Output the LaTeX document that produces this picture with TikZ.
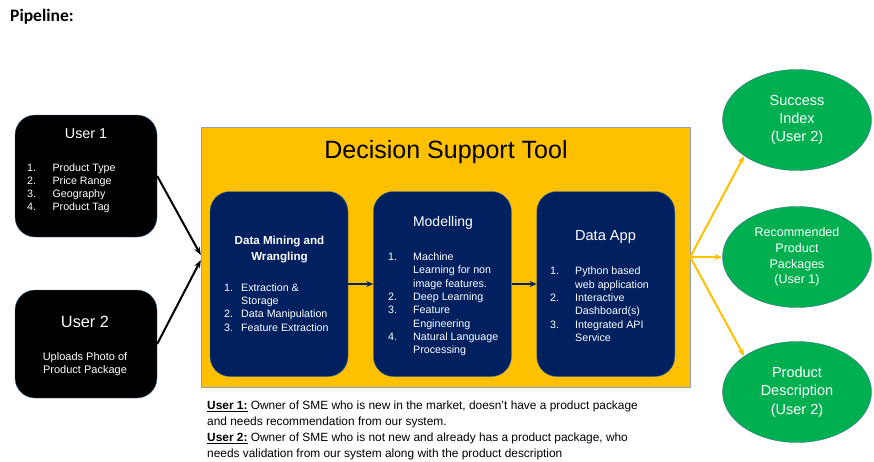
\documentclass[tikz,border=0pt]{standalone}
\usepackage{fontspec}
\setmainfont{Liberation Sans}
\newfontfamily\calibri{Carlito}
\usetikzlibrary{positioning,arrows.meta,shapes.geometric,calc}
\definecolor{dstyellow}{HTML}{FFC000}
\definecolor{dstnavy}{HTML}{002060}
\definecolor{dstgreen}{HTML}{00B050}
\definecolor{edgeblue}{HTML}{41719C}
\definecolor{framegray}{HTML}{8EA0BA}

\begin{document}
\begin{tikzpicture}[
      x=1pt, y=-1pt,
      >={Stealth[length=8pt,width=6pt]},
      user/.style={draw=edgeblue, fill=black, rounded corners=20pt,
                   minimum width=142pt, inner sep=0pt},
      stage/.style={draw=edgeblue, fill=dstnavy, rounded corners=20pt,
                    minimum width=138pt, minimum height=185pt, inner sep=0pt},
      outcome/.style={ellipse, draw=edgeblue, fill=dstgreen, minimum width=149pt,
                      minimum height=101pt, inner sep=0pt, text=white, align=center,
                      font=\fontsize{14.5}{18.3}\selectfont},
      head/.style={text=white, inner sep=0pt, align=center},
      items/.style={text=white, inner sep=0pt, anchor=base west,
                    font=\fontsize{10.7}{13.3}\selectfont},
      feed/.style={->, line width=2pt},
      flow/.style={->, line width=1.5pt, draw=dstnavy, >={Stealth[length=7pt,width=6pt]}},
      fan/.style={->, line width=2pt, draw=dstyellow},
      node distance=25pt
    ]
    \useasboundingbox (0,0) rectangle (874,461);

    \node[anchor=base west, inner sep=0pt, font=\calibri\bfseries\fontsize{17.5}{20}\selectfont]
         (pipe) at (10,21.7) {Pipeline:};

    % the two users
    \node[user, minimum height=122pt] (user1) at (86,176) {};
    \node[head, font=\fontsize{14.3}{17}\selectfont] (u1head) at (86,134) {User 1};
    \node[items] (u1list) at (27,171) {\begin{tabular}[t]{@{}p{25.4pt}@{}l@{}}
        1. & Product Type\\ 2. & Price Range\\ 3. & Geography\\ 4. & Product Tag
      \end{tabular}};

    \node[user, minimum height=108pt] (user2) at (86,344) {};
    \node[head, font=\fontsize{16.3}{19}\selectfont] (u2head) at (85,322) {User 2};
    \node[head, font=\fontsize{11}{13.3}\selectfont] (u2text) at (85,364)
         {Uploads Photo of\\ Product Package};

    % decision support tool
    \node[draw=framegray, fill=dstyellow, minimum width=489pt, minimum height=260pt,
          inner sep=0pt] (dst) at (445.5,257) {};
    \node[inner sep=0pt, font=\fontsize{25}{30}\selectfont] (dsthead) at (446,152)
         {Decision Support Tool};

    \node[stage] (mine) at (279,284) {};
    \node[stage, right=of mine] (model) {};
    \node[stage, right=of model] (app) {};

    \node[head, font=\bfseries\fontsize{11.6}{16}\selectfont] (minehead) at (279.5,250)
         {Data Mining and\\ Wrangling};
    \node[items] (minelist) at (224,291.2) {\begin{tabular}[t]{@{}p{17pt}@{}l@{}}
        1. & Extraction \&\\ & Storage\\ 2. & Data Manipulation\\ 3. & Feature Extraction
      \end{tabular}};

    \node[head, font=\fontsize{14}{17}\selectfont] (modelhead) at (443,222.7) {Modelling};
    \node[items] (modellist) at (388,260.5) {\begin{tabular}[t]{@{}p{25pt}@{}l@{}}
        1. & Machine\\ & Learning for non\\ & image features.\\ 2. & Deep Learning\\
        3. & Feature\\ & Engineering\\ 4. & Natural Language\\ & Processing
      \end{tabular}};

    \node[head, font=\fontsize{14.6}{17}\selectfont] (apphead) at (605.5,237.3) {Data App};
    \node[items] (applist) at (550,274.8) {\begin{tabular}[t]{@{}p{25pt}@{}l@{}}
        1. & Python based\\ & web application\\ 2. & Interactive\\ & Dashboard(s)\\
        3. & Integrated API\\ & Service
      \end{tabular}};

    % outcomes
    \node[outcome] (succ) at (797,120) {Success\\ Index\\ (User 2)};
    \node[outcome, font=\fontsize{12.5}{15.7}\selectfont] (reco) at (797,257)
         {Recommended\\ Product\\ Packages\\ (User 1)};
    \node[outcome] (desc) at (797,392) {Product\\ Description\\ (User 2)};

    % connectors
    \draw[feed] (user1.east) -- ($(dst.west)+(0,-2)$);
    \draw[feed] (user2.east) -- ($(dst.west)+(0,3)$);
    \draw[flow] (mine) -- (model);
    \draw[flow] (model) -- (app);
    \draw[fan] (dst.east) -- (succ.south west);
    \draw[fan] (dst.east) -- (reco.west);
    \draw[fan] (dst.east) -- (desc.north west);

    % legend
    \node[anchor=base west, inner sep=0pt, font=\fontsize{11.9}{16}\selectfont]
         (note) at (207,409.5) {\begin{tabular}[t]{@{}l@{}}
        \underline{\textbf{User 1:}} Owner of SME who is new in the market, doesn’t have a product package\\
        and needs recommendation from our system.\\
        \underline{\textbf{User 2:}} Owner of SME who is not new and already has a product package, who\\
        needs validation from our system along with the product description
      \end{tabular}};
  \end{tikzpicture}
\end{document}
